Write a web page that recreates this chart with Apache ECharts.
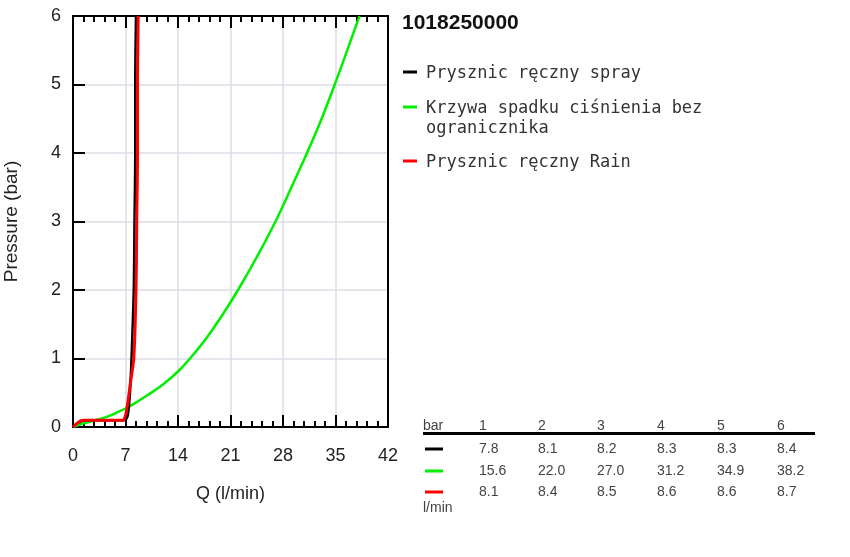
<!DOCTYPE html>
<html><head><meta charset="utf-8">
<script src="https://cdn.jsdelivr.net/npm/echarts@6/dist/echarts.min.js"></script>
<style>html,body{margin:0;padding:0;background:#fff}#c{width:850px;height:557px}</style>
</head><body><div id="c"></div>
<script>
const chartTitle = '1018250000';
const seriesNames = ['Prysznic ręczny spray', 'Krzywa spadku ciśnienia bez\nogranicznika', 'Prysznic ręczny Rain'];
const seriesColors = ['#000000', '#00f000', '#ff0000'];

const sprayQ = [0, 0.5, 1, 1.5, 3, 5, 6.8, 7.25, 7.45, 7.6, 7.8, 8.1, 8.2, 8.3, 8.3, 8.4];
const sprayP = [0, 0.05, 0.08, 0.1, 0.1, 0.1, 0.1, 0.15, 0.3, 0.5, 1, 2, 3, 4, 5, 6];

const freeQ = [0, 1, 2, 3, 4, 5, 6, 7, 8, 10, 12, 14, 15.6, 18, 20, 22, 24.5, 27, 29, 31.2, 33, 34.9, 36.5, 38.2];
const freeP = [0, 0.04, 0.07, 0.1, 0.13, 0.17, 0.22, 0.27, 0.33, 0.47, 0.62, 0.81, 1.0, 1.33, 1.65, 2.0, 2.48, 3.0, 3.47, 4.0, 4.46, 5.0, 5.48, 6.0];

const rainQ = [0, 0.5, 1, 1.5, 3, 5, 6.6, 7.0, 7.3, 7.6, 8.1, 8.4, 8.5, 8.6, 8.6, 8.7];
const rainP = [0, 0.05, 0.09, 0.1, 0.1, 0.1, 0.1, 0.17, 0.35, 0.6, 1, 2, 3, 4, 5, 6];

const tableBar = [1, 2, 3, 4, 5, 6];
const tableSpray = ['7.8', '8.1', '8.2', '8.3', '8.3', '8.4'];
const tableFree = ['15.6', '22.0', '27.0', '31.2', '34.9', '38.2'];
const tableRain = ['8.1', '8.4', '8.5', '8.6', '8.6', '8.7'];

const pair = (xs, ys) => xs.map((x, i) => [x, ys[i]]);
const chart = echarts.init(document.getElementById('c'), null, {renderer: 'canvas'});

const lineFont = 'Liberation Sans, Arial, sans-serif';
const monoFont = 'DejaVu Sans Mono, monospace';
const graphics = [];
graphics.push({type: 'text', x: 402, y: 23, style: {text: chartTitle, font: 'bold 21px ' + lineFont, fill: '#111', textVerticalAlign: 'middle'}});
const legendY = [72, 107, 161];
seriesNames.forEach((n, i) => {
  graphics.push({type: 'rect', shape: {x: 403, y: legendY[i] - 1.5, width: 14, height: 3}, style: {fill: seriesColors[i]}});
  graphics.push({type: 'text', x: 426, y: legendY[i] - 8, style: {text: n, font: '17px ' + monoFont, fill: '#333', lineHeight: 20, textVerticalAlign: 'top'}});
});
// table
const colX = [479, 538, 597, 657, 717, 777];
const rowY = [449, 471, 492];
const tblFont = '14px ' + lineFont;
graphics.push({type: 'text', x: 423, y: 426, style: {text: 'bar', font: tblFont, fill: '#444', textVerticalAlign: 'middle'}});
tableBar.forEach((b, j) => graphics.push({type: 'text', x: colX[j], y: 426, style: {text: String(b), font: tblFont, fill: '#444', textVerticalAlign: 'middle'}}));
graphics.push({type: 'line', shape: {x1: 423, y1: 433.5, x2: 815, y2: 433.5}, style: {stroke: '#000', lineWidth: 3}});
[tableSpray, tableFree, tableRain].forEach((row, r) => {
  graphics.push({type: 'rect', shape: {x: 425, y: rowY[r] - 1.5, width: 18, height: 3}, style: {fill: seriesColors[r]}});
  row.forEach((v, j) => graphics.push({type: 'text', x: colX[j], y: rowY[r], style: {text: v, font: tblFont, fill: '#444', textVerticalAlign: 'middle'}}));
});
graphics.push({type: 'text', x: 423, y: 508, style: {text: 'l/min', font: tblFont, fill: '#444', textVerticalAlign: 'middle'}});

const grid = {left: 73, top: 16, width: 315, height: 411};
const axisLbl = {color: '#222', fontSize: 18, fontFamily: lineFont};
chart.setOption({
  animation: false,
  grid: grid,
  graphic: graphics,
  xAxis: [{
    type: 'value', min: 0, max: 42, interval: 7, position: 'bottom',
    name: 'Q (l/min)', nameLocation: 'middle', nameGap: 58,
    nameTextStyle: {color: '#222', fontSize: 18, fontFamily: lineFont},
    axisLine: {onZero: false, lineStyle: {color: '#000', width: 2}},
    axisTick: {inside: true, length: 12, lineStyle: {color: '#000', width: 2}},
    minorTick: {show: true, splitNumber: 5, length: 6, lineStyle: {color: '#000', width: 2}},
    axisLabel: Object.assign({margin: 20}, axisLbl),
    splitLine: {show: true, lineStyle: {color: '#dcdce4', width: 1.5}}
  }, {
    type: 'value', min: 0, max: 42, interval: 7, position: 'top',
    axisLine: {onZero: false, lineStyle: {color: '#000', width: 2}},
    axisTick: {inside: true, length: 12, lineStyle: {color: '#000', width: 2}},
    minorTick: {show: true, splitNumber: 5, length: 6, lineStyle: {color: '#000', width: 2}},
    axisLabel: {show: false}, splitLine: {show: false}
  }],
  yAxis: [{
    type: 'value', min: 0, max: 6, interval: 1, position: 'left',
    name: 'Pressure (bar)', nameLocation: 'middle', nameGap: 52, nameRotate: 90,
    nameTextStyle: {color: '#222', fontSize: 19, fontFamily: lineFont},
    axisLine: {show: true, onZero: false, lineStyle: {color: '#000', width: 2}},
    axisTick: {show: true, inside: true, length: 12, lineStyle: {color: '#000', width: 2}},
    axisLabel: Object.assign({margin: 12}, axisLbl),
    splitLine: {show: true, lineStyle: {color: '#dcdce4', width: 1.5}}
  }, {
    type: 'value', min: 0, max: 6, interval: 1, position: 'right',
    axisLine: {show: true, onZero: false, lineStyle: {color: '#000', width: 2}},
    axisTick: {show: false}, axisLabel: {show: false}, splitLine: {show: false}
  }],
  series: [
    {name: seriesNames[0], type: 'line', data: pair(sprayQ, sprayP), showSymbol: false, smooth: 0.3, lineStyle: {color: seriesColors[0], width: 2.5}, z: 3},
    {name: seriesNames[1], type: 'line', data: pair(freeQ, freeP), showSymbol: false, smooth: 0.3, lineStyle: {color: seriesColors[1], width: 2.5}, z: 2},
    {name: seriesNames[2], type: 'line', data: pair(rainQ, rainP), showSymbol: false, smooth: 0.3, lineStyle: {color: seriesColors[2], width: 3}, z: 4}
  ]
});
</script></body></html>
